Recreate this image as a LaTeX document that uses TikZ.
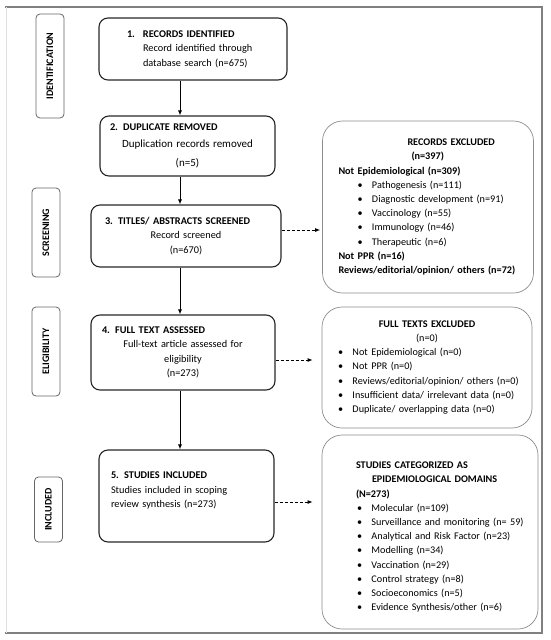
\documentclass[tikz,border=0pt]{standalone}
\usepackage{fontspec}
\setmainfont{Carlito}
\usetikzlibrary{arrows.meta,positioning}

\newcommand{\itm}[2][0pt]{\mbox{\hspace*{#1}\makebox[14.5pt][l]{\textbullet}#2}}

\begin{document}
\begin{tikzpicture}[x=1pt,y=-1pt,
    stepbox/.style={draw=black!85,line width=1.1pt,rounded corners=9pt,font=\fontsize{10.3}{14.4}\selectfont,inner ysep=0pt},
    outbox/.style={draw=black!45,line width=0.7pt,rounded corners=20pt,font=\fontsize{10.2}{14.2}\selectfont,align=left,inner xsep=16pt,inner ysep=0pt},
    phase/.style={draw=black!60,line width=0.8pt,rounded corners=4pt,rotate=90,font=\fontsize{10}{12}\selectfont\bfseries,minimum height=28pt,inner sep=0pt},
    arr/.style={-{Latex[length=5pt,width=4pt]},line width=1pt},
    darr/.style={-{Latex[length=5pt,width=4pt]},line width=0.9pt,dash pattern=on 3pt off 2pt}]
    \useasboundingbox (0,0) rectangle (550,640);

    % frame
    \draw[black!50,line width=1.5pt] (5,7) -- (542,7) -- (542,633) -- (5,633);
    \draw[black!12,line width=1pt] (6,7) -- (6,633);

    % phases
    \node[phase,minimum width=104pt] (pid)  at (50,66)    {IDENTIFICATION};
    \node[phase,minimum width=89pt]  (pscr) at (46,232.5) {SCREENING};
    \node[phase,minimum width=89pt]  (pel)  at (46,351.5) {ELIGIBILITY};
    \node[phase,minimum width=65pt]  (pinc) at (48.5,509.5) {INCLUDED};

    % main steps
    \node[stepbox,align=left,text width=132pt,inner xsep=28pt,minimum height=62pt] (b1) at (193,49)
        {\makebox[16pt][l]{\textbf{1.}}\textbf{RECORDS IDENTIFIED}\\
         \hspace*{16pt}Record identified through\\
         \hspace*{16pt}database search (n=675)};
    \node[stepbox,align=center,text width=155pt,inner xsep=10pt,minimum height=60pt] (b2) at (187.5,146)
        {\textbf{2. DUPLICATE REMOVED}\hfill\null\\
         \fontsize{11}{17}\selectfont Duplication records removed\\[5pt]
         (n=5)};
    \node[stepbox,align=center,text width=162pt,inner xsep=14pt,minimum height=62pt] (b3) at (186,236)
        {\textbf{3. TITLES/ ABSTRACTS SCREENED}\hfill\null\\
         Record screened\\
         (n=670)};
    \node[stepbox,align=center,text width=162pt,inner xsep=11pt,minimum height=75pt] (b4) at (183,352.5)
        {\textbf{4. FULL TEXT ASSESSED}\hfill\null\\
         Full-text article assessed for\\
         eligibility\\
         (n=273)};
    \node[stepbox,align=left,text width=151pt,inner xsep=12pt,minimum height=92pt] (b5) at (186.5,496)
        {\textbf{5. STUDIES INCLUDED}\\
         Studies included in scoping\\
         review synthesis (n=273)\rule[-12pt]{0pt}{12pt}};

    % side boxes
    \node[outbox,text width=179pt,minimum height=172pt] (rx) at (428,207)
        {\hspace*{69pt}\textbf{RECORDS EXCLUDED}\\
         \hspace*{73pt}\textbf{(n=397)}\\
         \textbf{Not Epidemiological (n=309)}\\
         \itm[19pt]{Pathogenesis (n=111)}\\
         \itm[19pt]{Diagnostic development (n=91)}\\
         \itm[19pt]{Vaccinology (n=55)}\\
         \itm[19pt]{Immunology (n=46)}\\
         \itm[19pt]{Therapeutic (n=6)}\\
         \textbf{Not PPR (n=16)}\\
         \mbox{\textbf{Reviews/editorial/opinion/ others (n=72)}}};
    \node[outbox,text width=178pt,minimum height=121pt] (fx) at (427,367.5)
        {\hfill\textbf{FULL TEXTS EXCLUDED}\hfill\null\\
         \hfill(n=0)\hfill\null\\
         \itm{Not Epidemiological (n=0)}\\
         \itm{Not PPR (n=0)}\\
         \itm{Reviews/editorial/opinion/ others (n=0)}\\
         \itm{Insufficient data/ irrelevant data (n=0)}\\
         \itm{Duplicate/ overlapping data (n=0)}};
    \node[outbox,text width=184pt,minimum height=194pt] (sc) at (430,532)
        {\rule{0pt}{17pt}\hspace*{18pt}\textbf{STUDIES CATEGORIZED AS}\\
         \hspace*{34pt}\textbf{EPIDEMIOLOGICAL DOMAINS}\\
         \hspace*{18pt}\textbf{(N=273)}\\
         \itm[19pt]{Molecular (n=109)}\\
         \itm[19pt]{Surveillance and monitoring (n= 59)}\\
         \itm[19pt]{Analytical and Risk Factor (n=23)}\\
         \itm[19pt]{Modelling (n=34)}\\
         \itm[19pt]{Vaccination (n=29)}\\
         \itm[19pt]{Control strategy (n=8)}\\
         \itm[19pt]{Socioeconomics (n=5)}\\
         \itm[19pt]{Evidence Synthesis/other (n=6)}};

    % flow
    \coordinate (spine) at (180,0);
    \draw[arr] (b1.south -| spine) -- (b2.north -| spine);
    \draw[arr] (b2.south -| spine) -- (b3.north -| spine);
    \draw[arr] (b3.south -| spine) -- (b4.north -| spine);
    \draw[arr] (b4.south -| spine) -- (b5.north -| spine);

    \draw[darr,shorten >=2pt] ([yshift=6pt]b3.east) -- ([yshift=6pt]b3.east -| rx.west);
    \draw[darr,shorten >=9pt] ([yshift=-7.5pt]b4.east) -- ([yshift=-7.5pt]b4.east -| fx.west);
    \draw[darr,shorten >=9pt] ([yshift=-6pt]b5.east) -- ([yshift=-6pt]b5.east -| sc.west);
\end{tikzpicture}
\end{document}
